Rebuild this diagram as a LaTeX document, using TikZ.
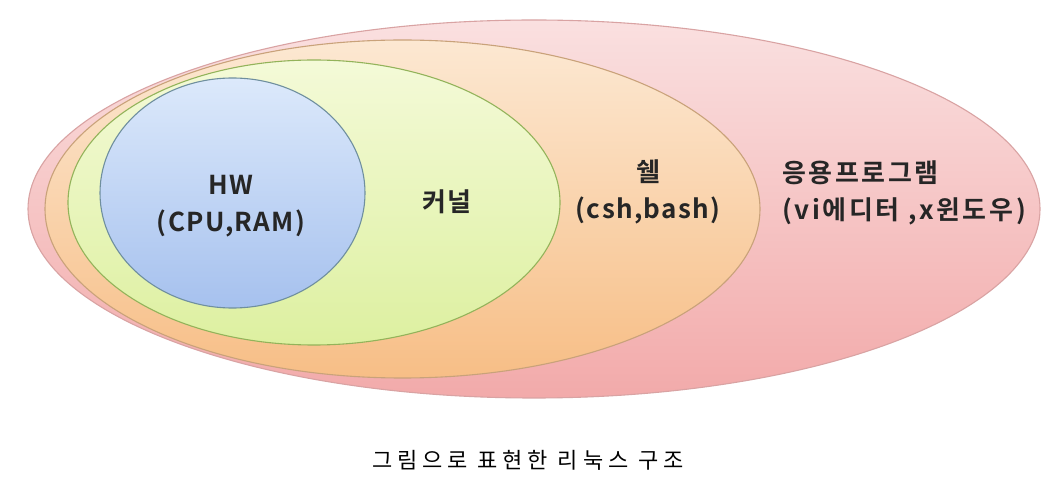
\documentclass[tikz,border=0pt]{standalone}
\usepackage{fontspec}
\setmainfont{Noto Sans CJK KR}
\newfontfamily\krbold[LetterSpace=5]{Noto Sans CJK KR Bold}
\newfontfamily\krboldwide[LetterSpace=10]{Noto Sans CJK KR Bold}
\newfontfamily\krcap[LetterSpace=22]{Noto Sans CJK KR}
\usetikzlibrary{shapes.geometric}
\definecolor{pinkT}{HTML}{FAE0E0}
\definecolor{pinkB}{HTML}{F2AAAA}
\definecolor{pinkD}{HTML}{D9A3A3}
\definecolor{orT}{HTML}{FCE8D2}
\definecolor{orB}{HTML}{F7BE86}
\definecolor{orD}{HTML}{C9A27A}
\definecolor{grT}{HTML}{F4FAD8}
\definecolor{grB}{HTML}{DDF0A0}
\definecolor{grD}{HTML}{93B35A}
\definecolor{blT}{HTML}{DCE9FB}
\definecolor{blB}{HTML}{A6C1EE}
\definecolor{blD}{HTML}{6F8F9E}
\definecolor{txt}{HTML}{262626}
\tikzset{
  layer/.style={ellipse, inner sep=0pt, line width=1.1pt},
  lbl/.style={font=\krbold\fontsize{26}{37}\selectfont, text=txt, align=center, inner sep=0pt},
  lblwide/.style={font=\krboldwide\fontsize{26}{37}\selectfont, text=txt, align=left, inner sep=0pt},
  captext/.style={font=\krcap\fontsize{22}{26}\selectfont, text=black, inner sep=0pt}
}
\begin{document}
\begin{tikzpicture}[x=1pt,y=1pt]
\useasboundingbox (0,0) rectangle (1052,482);
\fill[white] (0,0) rectangle (1052,482);
\node[layer, minimum width=1012pt, minimum height=378pt, top color=pinkT, bottom color=pinkB, draw=pinkD] (app) at (534,273) {};
\node[layer, minimum width=715pt, minimum height=338pt, top color=orT, bottom color=orB, draw=orD] (shell) at (402.5,273) {};
\node[layer, minimum width=492pt, minimum height=285pt, top color=grT, bottom color=grB, draw=grD] (kernel) at (314,279.5) {};
\node[layer, minimum width=265pt, minimum height=230pt, top color=blT, bottom color=blB, draw=blD] (hw) at (232.5,289) {};
\node[lbl] (hwt) at (231,276) {HW\\(CPU,RAM)};
\node[lbl] (kt) at (447,280) {커널};
\node[lbl] (st) at (648,290) {쉘\\(csh,bash)};
\node[lblwide, anchor=west] (at) at (782,289) {응용프로그램\\(vi에디터 ,x윈도우)};
\node[captext] (caption) at (528,22) {그림으로 표현한 리눅스 구조};
\end{tikzpicture}
\end{document}
